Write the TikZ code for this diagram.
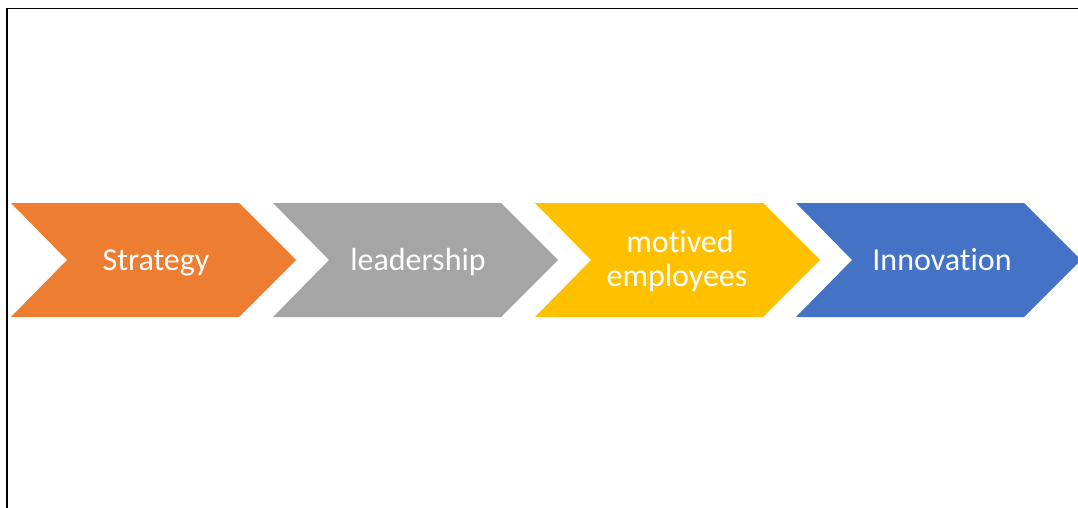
\documentclass[tikz,border=0pt]{standalone}
\usepackage{fontspec}
\setmainfont{Carlito}[Ligatures={NoCommon}]
\definecolor{chorange}{HTML}{ED7D31}
\definecolor{chgray}{HTML}{A5A5A5}
\definecolor{chyellow}{HTML}{FFC000}
\definecolor{chblue}{HTML}{4472C4}
\tikzset{
  chlabel/.style={text=white, align=center, inner sep=0pt, anchor=base,
    font=\fontsize{32}{34}\selectfont},
  frameline/.style={draw=black, line width=1.6pt}
}
\begin{document}
\begin{tikzpicture}[x=1pt,y=-1pt]
\clip (0,0) rectangle (1078,508);
\fill[white] (0,0) rectangle (1078,508);
\draw[frameline] (6.8,520) -- (6.8,8.6) -- (1090,8.6);
% chevrons: left x, width 285, top 203, bottom 317, point depth 57
\foreach \x/\c in {11/chorange, 273/chgray, 535/chyellow, 796/chblue}{
  \fill[\c] (\x,203) -- ++(228,0) -- ++(57,57) -- ++(-57,57) -- ++(-228,0) -- ++(56,-57) -- cycle;
}
\node[chlabel] (strategy) at (156,270) {Strategy};
\node[chlabel] (leadership) at (418,270) {leadership};
\node[chlabel] (motived) at (680,252) {motived};
\node[chlabel] (employees) at (677,286) {employees};
\node[chlabel] (innovation) at (942,270) {Innovation};
\end{tikzpicture}
\end{document}
